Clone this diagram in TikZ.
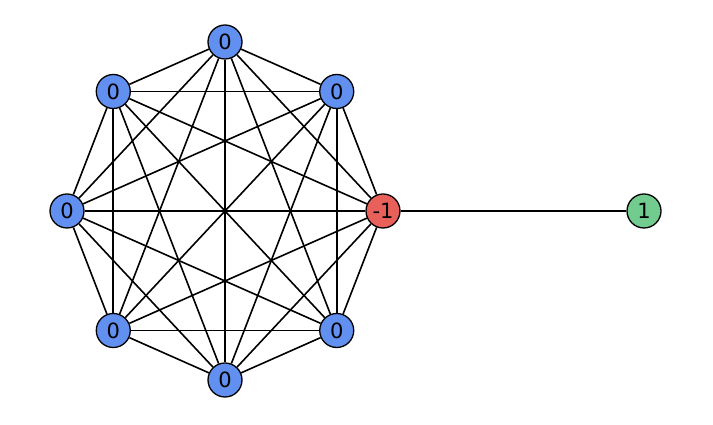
\documentclass[tikz,border=0pt]{standalone}
\usepackage{fontspec}
\setmainfont{DejaVu Sans}
\definecolor{nodeblue}{RGB}{98,144,240}
\definecolor{nodered}{RGB}{232,96,90}
\definecolor{nodegreen}{RGB}{114,204,144}
\tikzstyle{vertex}=[circle, draw, line width=1.3pt, minimum size=34pt, inner sep=0pt, font=\fontsize{21}{21}\selectfont]
\tikzstyle{edge}=[line width=1.6pt]

\begin{document}
\begin{tikzpicture}[x=1pt, y=1pt]
                    \useasboundingbox (0,0) rectangle (713,425);
                    \node[vertex, fill=nodered] (n0) at (383,214) {-1};
                    \foreach \i in {1,...,7}
                        \node[vertex, fill=nodeblue] (n\i) at ({225+158*cos(45*\i)}, {214+169*sin(45*\i)}) {0};
                    \node[vertex, fill=nodegreen] (leaf) at (644,214) {1};
                    \foreach \i in {0,...,6} {
                        \pgfmathtruncatemacro\nxt{\i+1}
                        \foreach \j in {\nxt,...,7}
                            \draw[edge] (n\i) -- (n\j);
                    }
                    \draw[edge] (n0) -- (leaf);
                \end{tikzpicture}
\end{document}
